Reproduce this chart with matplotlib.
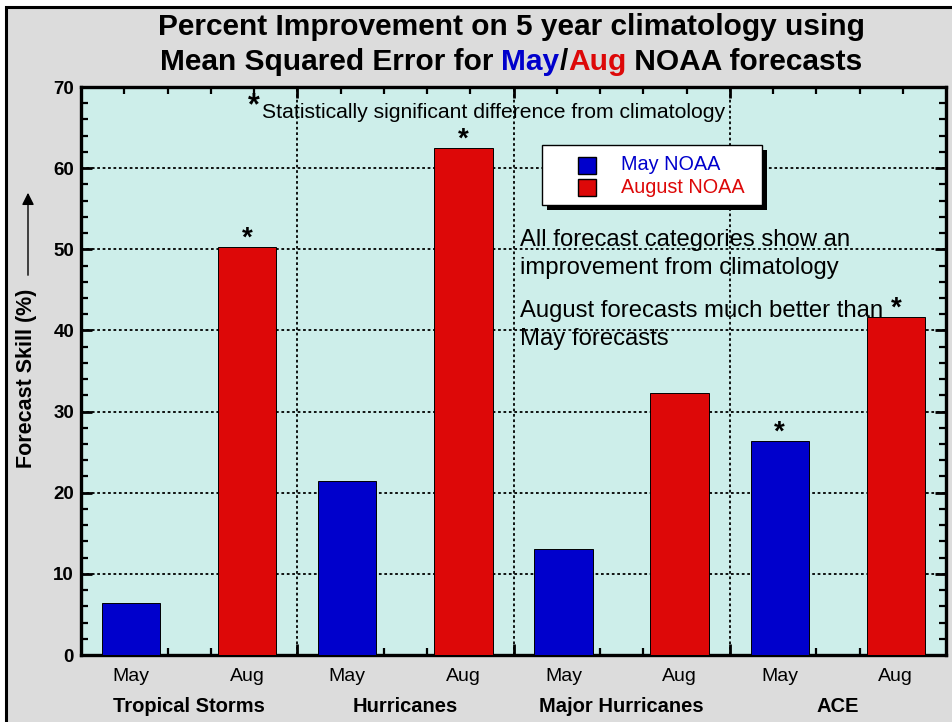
import matplotlib.pyplot as plt
from matplotlib.patches import Rectangle
from matplotlib.offsetbox import TextArea, HPacker, AnchoredOffsetbox
from matplotlib.ticker import MultipleLocator

plt.rcParams['font.family'] = ['Liberation Sans', 'DejaVu Sans']

# data
categories = ["Tropical Storms", "Hurricanes", "Major Hurricanes", "ACE"]
may_vals = [6.4, 21.4, 13.1, 26.4]
aug_vals = [50.3, 62.5, 32.3, 41.7]
may_signif = [False, False, False, True]
aug_signif = [True, True, False, True]
month_labels = ["May", "Aug"]
legend_labels = ["May NOAA", "August NOAA"]

W, H = 952, 722
blue = "#0000cc"
red = "#dd0808"


def fx(x):
    return x / W


def fy(y):
    return 1 - y / H


fig = plt.figure(figsize=(W / 100, H / 100), dpi=100)
fig.patch.set_facecolor("white")

# gray panel with black frame (cropped on right/bottom like the original)
fig.add_artist(Rectangle((fx(6), -0.1), 1.2, fy(7) + 0.1, transform=fig.transFigure,
                         facecolor="#dcdcdc", edgecolor="black", lw=2.2, zorder=-5))

ax = fig.add_axes([fx(81), fy(655), 865 / W, 568 / H])
ax.set_facecolor("#cdeeea")

x_may = [i + 0.231 for i in range(len(categories))]
x_aug = [i + 0.768 for i in range(len(categories))]
bw = 0.27
ax.bar(x_may, may_vals, width=bw, color=blue, edgecolor="black", lw=0.7, zorder=3)
ax.bar(x_aug, aug_vals, width=bw, color=red, edgecolor="black", lw=0.7, zorder=3)

# significance stars
for xs, vals, sig in [(x_may, may_vals, may_signif), (x_aug, aug_vals, aug_signif)]:
    for x, v, s in zip(xs, vals, sig):
        if s:
            ax.text(x, v + 0.1, "*", ha="center", va="baseline", fontsize=20,
                    fontweight="bold", zorder=5)

ax.set_xlim(0, 4)
ax.set_ylim(0, 70)
ax.set_axisbelow(True)
ax.xaxis.set_major_locator(MultipleLocator(1))
ax.xaxis.set_minor_locator(MultipleLocator(0.2))
ax.yaxis.set_major_locator(MultipleLocator(10))
ax.yaxis.set_minor_locator(MultipleLocator(2))
ax.set_xticklabels([])
ax.grid(True, which="major", color="black", lw=1.3, linestyle=(0, (1.5, 1.5)))
ax.tick_params(which="both", direction="in", top=True, right=True)
ax.tick_params(which="major", length=8, width=2)
ax.tick_params(which="minor", length=5, width=1.6)
ax.tick_params(axis="y", labelsize=13.5, pad=5)
for lab in ax.get_yticklabels():
    lab.set_fontweight("bold")
for sp in ax.spines.values():
    sp.set_linewidth(2.4)

# category / month labels under the axis
xt = ax.get_xaxis_transform()
for i, cat in enumerate(categories):
    ax.text(x_may[i], -0.037, month_labels[0], transform=xt, ha="center", va="center",
            fontsize=14)
    ax.text(x_aug[i], -0.037, month_labels[1], transform=xt, ha="center", va="center",
            fontsize=14)
    ax.text(i + 0.5, -0.0915, cat, transform=xt, ha="center", va="center",
            fontsize=14.5, fontweight="bold")

# y label and arrow
fig.text(fx(27), fy(378), "Forecast Skill (%)", rotation=90, ha="center", va="center",
         fontsize=15.5, fontweight="bold")
ax.annotate("", xy=(28, H - 190), xytext=(28, H - 278), xycoords="figure pixels",
            textcoords="figure pixels",
            arrowprops=dict(arrowstyle="-|>", lw=1, color="black", mutation_scale=18))

# title, second line with coloured months
tkw = dict(fontsize=21.5, fontweight="bold")
fig.text(fx(511), fy(27), "Percent Improvement on 5 year climatology using",
         ha="center", va="center", **tkw)
parts = [("Mean Squared Error for ", "black"), ("May", blue), ("/", "black"),
         ("Aug", red), (" NOAA forecasts", "black")]
box = HPacker(children=[TextArea(t, textprops=dict(color=c, **tkw)) for t, c in parts],
              pad=0, sep=0, align="baseline")
anch = AnchoredOffsetbox(loc="center", child=box, frameon=False, pad=0, borderpad=0,
                         bbox_to_anchor=(fx(511), fy(62)), bbox_transform=fig.transFigure)
fig.add_artist(anch)

# significance note
fig.text(fx(254), fy(106), "*", ha="center", va="center", fontsize=22, fontweight="bold")
fig.text(fx(262), fy(113), "Statistically significant difference from climatology",
         ha="left", va="center", fontsize=15.2)

# legend box with shadow
fig.add_artist(Rectangle((fx(547), fy(210)), 220 / W, 60 / H, transform=fig.transFigure,
                         facecolor="black", edgecolor="black", lw=0, zorder=6))
fig.add_artist(Rectangle((fx(542), fy(205)), 220 / W, 60 / H, transform=fig.transFigure,
                         facecolor="white", edgecolor="black", lw=1, zorder=7))
for k, (lab, col) in enumerate(zip(legend_labels, [blue, red])):
    yc = 165 + 22 * k
    fig.add_artist(Rectangle((fx(578), fy(yc + 9)), 18 / W, 17 / H,
                             transform=fig.transFigure, facecolor=col,
                             edgecolor="black", lw=1, zorder=8))
    fig.text(fx(621), fy(yc), lab, color=col, ha="left", va="center", fontsize=14.3,
             zorder=8)

# commentary
fig.text(fx(520), fy(254), "All forecast categories show an\nimprovement from climatology",
         ha="left", va="center", fontsize=17.2, linespacing=1.38)
fig.text(fx(520), fy(325), "August forecasts much better than\nMay forecasts",
         ha="left", va="center", fontsize=17.2, linespacing=1.38)

plt.savefig("out.png", dpi=100)
